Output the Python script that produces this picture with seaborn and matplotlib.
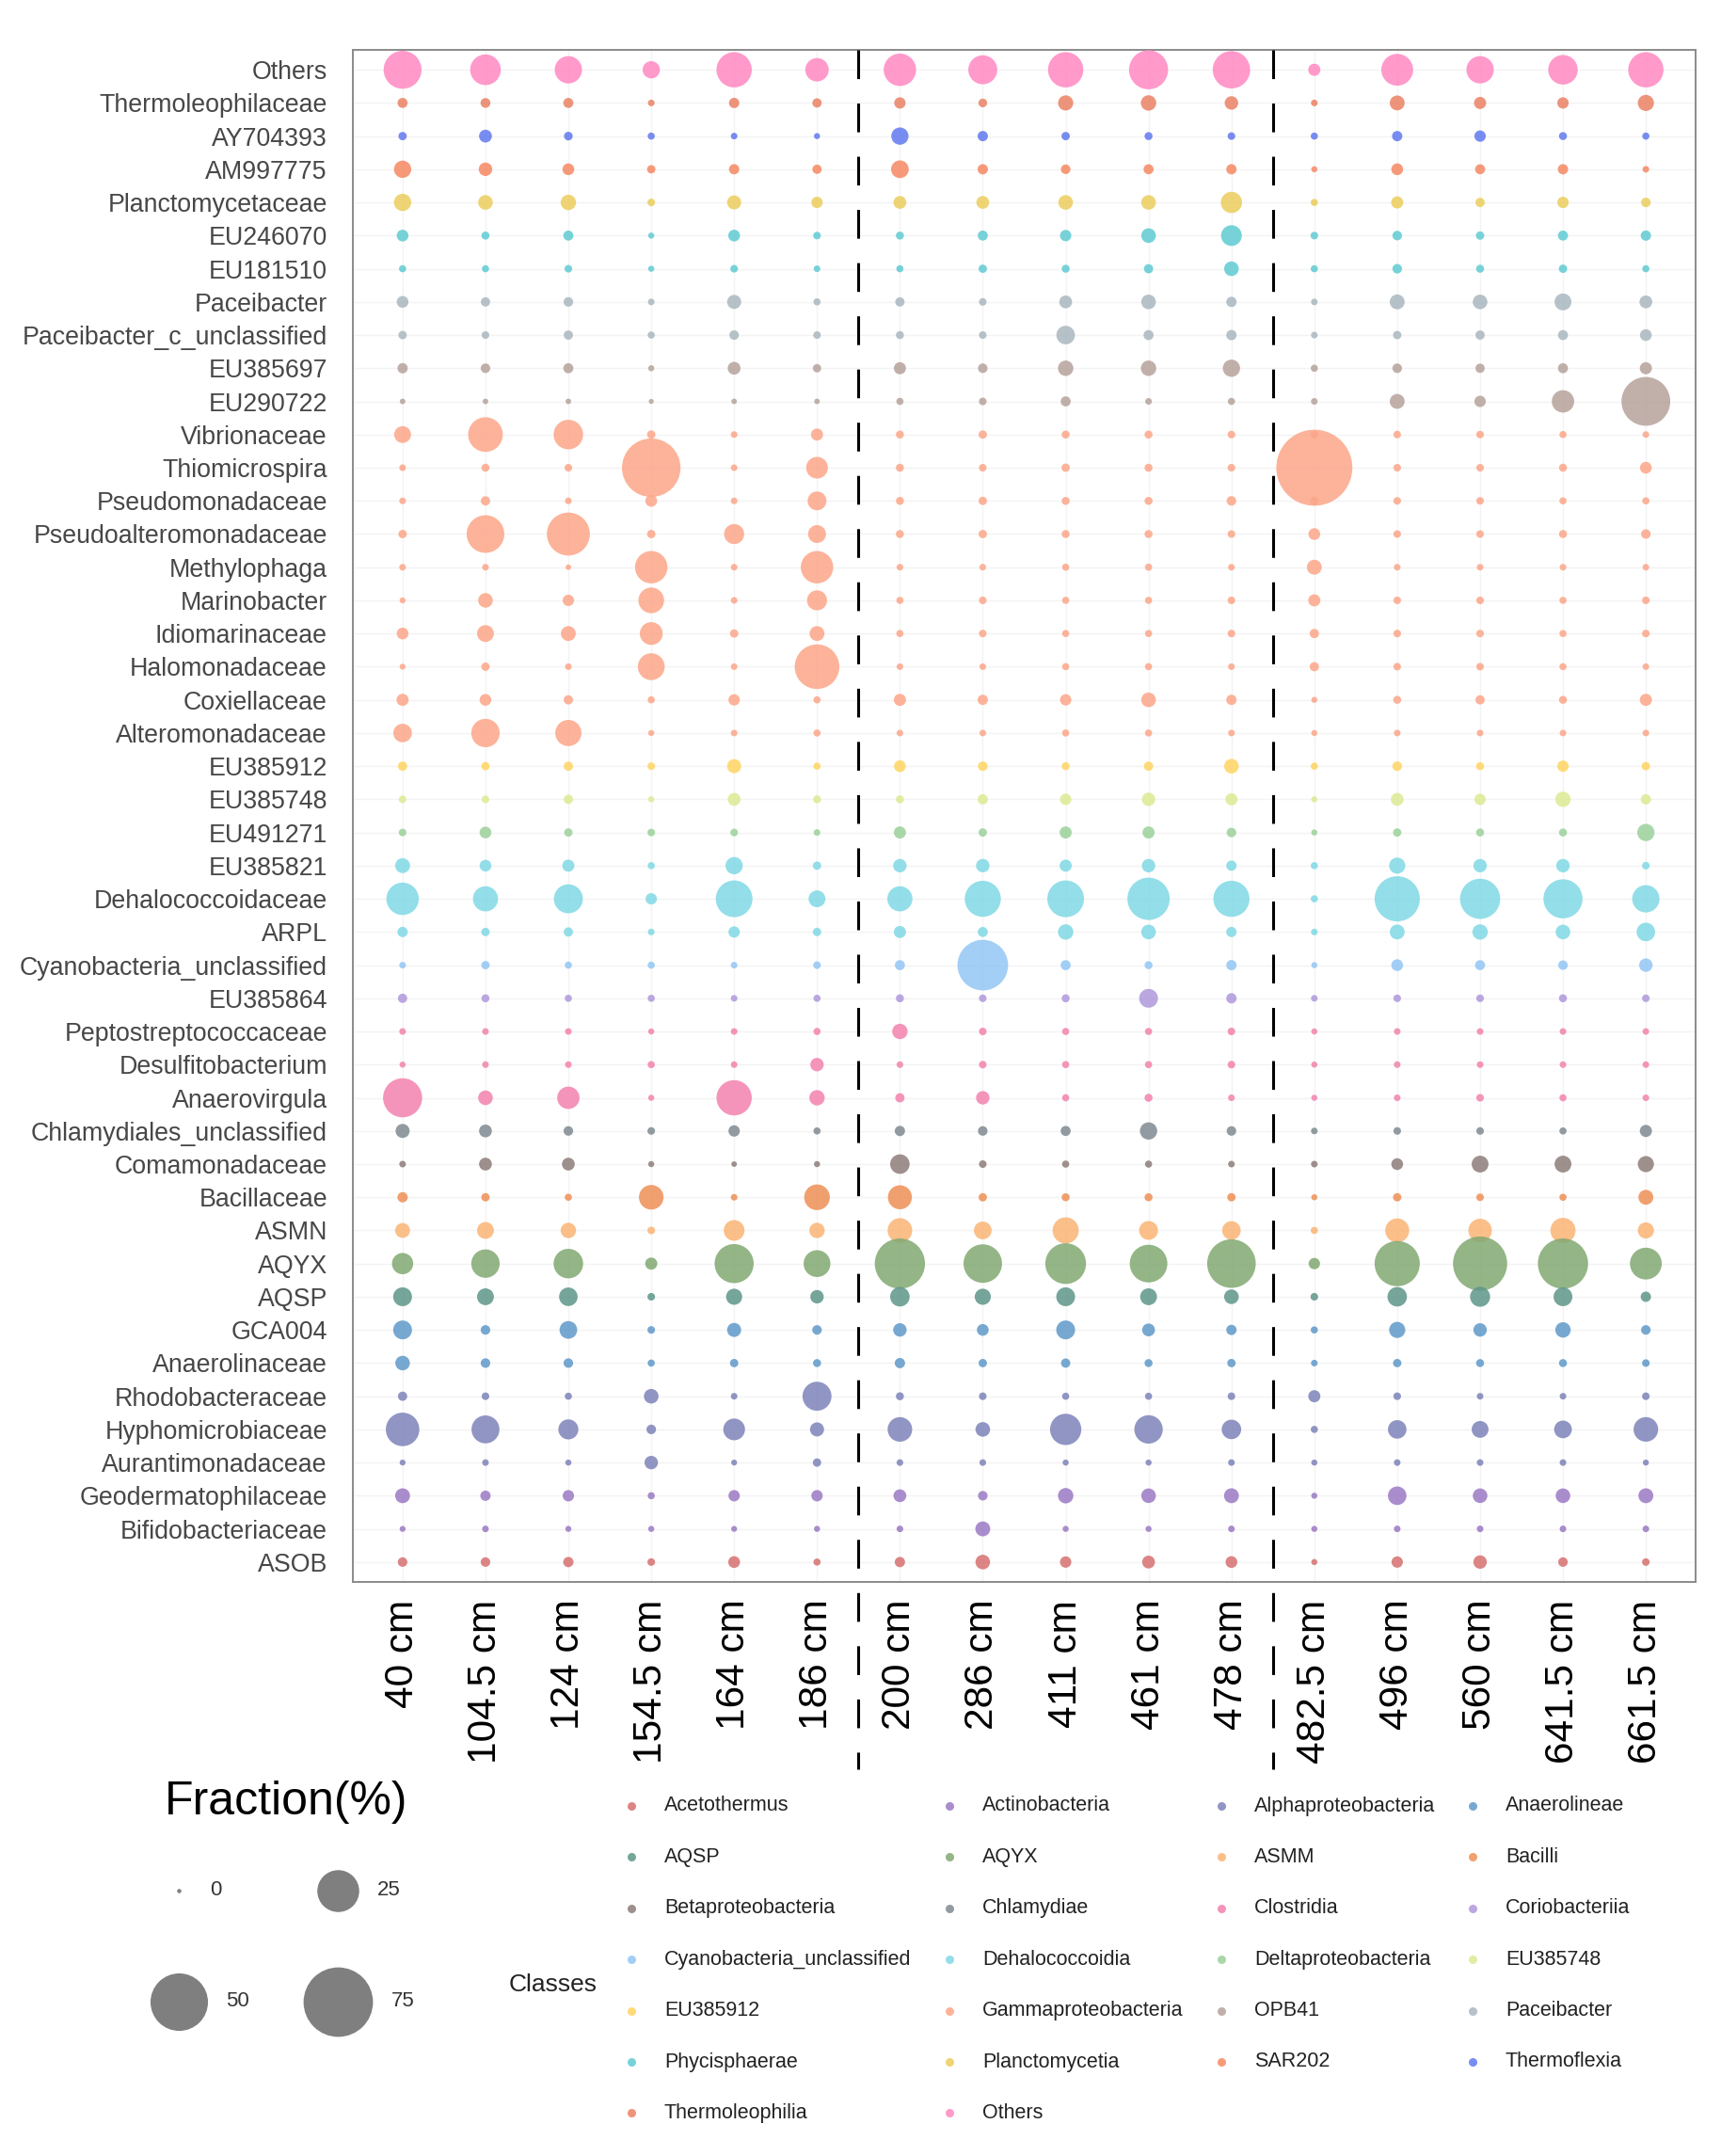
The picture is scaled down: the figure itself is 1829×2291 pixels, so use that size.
import matplotlib
matplotlib.use("Agg")
import matplotlib.pyplot as plt
import matplotlib.transforms as mtransforms
import numpy as np
import pandas as pd
import seaborn as sns

# ---- data -------------------------------------------------------------
depths = ["40 cm", "104.5 cm", "124 cm", "154.5 cm", "164 cm", "186 cm",
          "200 cm", "286 cm", "411 cm", "461 cm", "478 cm",
          "482.5 cm", "496 cm", "560 cm", "641.5 cm", "661.5 cm"]
group_ends = ["186 cm", "478 cm"]   # dashed separators after these samples

taxa = ["Others", "Thermoleophilaceae", "AY704393", "AM997775", "Planctomycetaceae",
        "EU246070", "EU181510", "Paceibacter", "Paceibacter_c_unclassified",
        "EU385697", "EU290722", "Vibrionaceae", "Thiomicrospira", "Pseudomonadaceae",
        "Pseudoalteromonadaceae", "Methylophaga", "Marinobacter", "Idiomarinaceae",
        "Halomonadaceae", "Coxiellaceae", "Alteromonadaceae", "EU385912", "EU385748",
        "EU491271", "EU385821", "Dehalococcoidaceae", "ARPL",
        "Cyanobacteria_unclassified", "EU385864", "Peptostreptococcaceae",
        "Desulfitobacterium", "Anaerovirgula", "Chlamydiales_unclassified",
        "Comamonadaceae", "Bacillaceae", "ASMN", "AQYX", "AQSP", "GCA004",
        "Anaerolinaceae", "Rhodobacteraceae", "Hyphomicrobiaceae",
        "Aurantimonadaceae", "Geodermatophilaceae", "Bifidobacteriaceae", "ASOB"]

taxon_class = ["Others", "Thermoleophilia", "Thermoflexia", "SAR202", "Planctomycetia",
               "Phycisphaerae", "Phycisphaerae", "Paceibacter", "Paceibacter",
               "OPB41", "OPB41", "Gammaproteobacteria", "Gammaproteobacteria",
               "Gammaproteobacteria", "Gammaproteobacteria", "Gammaproteobacteria",
               "Gammaproteobacteria", "Gammaproteobacteria", "Gammaproteobacteria",
               "Gammaproteobacteria", "Gammaproteobacteria", "EU385912", "EU385748",
               "Deltaproteobacteria", "Dehalococcoidia", "Dehalococcoidia",
               "Dehalococcoidia", "Cyanobacteria_unclassified", "Coriobacteriia",
               "Clostridia", "Clostridia", "Clostridia", "Chlamydiae",
               "Betaproteobacteria", "Bacilli", "ASMM", "AQYX", "AQSP", "Anaerolineae",
               "Anaerolineae", "Alphaproteobacteria", "Alphaproteobacteria",
               "Alphaproteobacteria", "Actinobacteria", "Actinobacteria", "Acetothermus"]

# fraction (%) per taxon, one value per depth
others = [20, 12.3, 9.4, 3.0, 17, 6.5, 14, 10.8, 17, 21.4, 19.4, 1.1, 13.4, 9.4, 11.3, 17]
thermoleophilaceae = [0.6, 0.55, 0.6, 0.1, 0.65, 0.45, 0.9, 0.35, 2.1, 2.2, 1.5, 0.1, 2.0, 1.1, 0.9, 2.5]
ay704393 = [0.3, 1.3, 0.35, 0.15, 0.1, 0.06, 3.0, 0.65, 0.3, 0.25, 0.2, 0.15, 0.65, 0.9, 0.25, 0.15]
am997775 = [3.0, 1.5, 1.0, 0.3, 0.65, 0.45, 3.2, 0.65, 0.5, 0.6, 0.65, 0.06, 1.0, 0.6, 0.65, 0.1]
planctomycetaceae = [3.0, 1.9, 2.2, 0.2, 1.7, 0.9, 1.3, 1.3, 1.9, 1.9, 5.1, 0.15, 1.1, 0.45, 0.9, 0.5]
eu246070 = [1.0, 0.25, 0.6, 0.06, 1.0, 0.2, 0.25, 0.6, 0.9, 1.9, 4.8, 0.2, 0.5, 0.3, 0.6, 0.65]
eu181510 = [0.15, 0.15, 0.2, 0.06, 0.2, 0.1, 0.15, 0.3, 0.25, 0.45, 1.9, 0.15, 0.5, 0.25, 0.3, 0.15]
paceibacter = [1.0, 0.45, 0.5, 0.1, 1.7, 0.15, 0.45, 0.2, 1.3, 1.9, 0.65, 0.1, 2.0, 1.9, 2.8, 1.3]
paceibacter_unc = [0.3, 0.2, 0.45, 0.15, 0.5, 0.2, 0.25, 0.2, 3.6, 0.6, 0.65, 0.1, 0.3, 0.45, 0.6, 1.0]
eu385697 = [0.65, 0.5, 0.6, 0.06, 1.3, 0.3, 1.1, 0.5, 2.2, 2.2, 3.0, 0.15, 0.5, 0.45, 0.6, 1.1]
eu290722 = [0.03, 0.03, 0.03, 0.01, 0.03, 0.03, 0.15, 0.2, 0.6, 0.1, 0.15, 0.1, 2.0, 0.9, 5.8, 35]
vibrionaceae = [2.8, 16.3, 11.3, 0.3, 0.1, 1.1, 0.25, 0.3, 0.25, 0.25, 0.2, 0.2, 0.2, 0.2, 0.15, 0.1]
thiomicrospira = [0.1, 0.25, 0.2, 52, 0.1, 5.4, 0.25, 0.2, 0.3, 0.25, 0.2, 91, 0.2, 0.2, 0.25, 1.0]
pseudomonadaceae = [0.1, 0.45, 0.1, 1.0, 0.1, 3.75, 0.25, 0.3, 0.25, 0.25, 0.5, 0.3, 0.2, 0.2, 0.15, 0.15]
pseudoalteromonadaceae = [0.3, 19.7, 26.5, 0.3, 4.4, 3.3, 0.25, 0.3, 0.25, 0.25, 0.2, 1.0, 0.2, 0.2, 0.25, 0.5]
methylophaga = [0.1, 0.1, 0.03, 14, 0.1, 14, 0.1, 0.1, 0.15, 0.15, 0.1, 2.0, 0.1, 0.1, 0.1, 0.1]
marinobacter = [0.05, 1.9, 0.9, 8.1, 0.1, 4.4, 0.15, 0.2, 0.15, 0.15, 0.2, 1.1, 0.2, 0.2, 0.15, 0.2]
idiomarinaceae = [1.0, 2.8, 2.0, 6.1, 0.3, 2.0, 0.15, 0.2, 0.15, 0.15, 0.2, 0.45, 0.2, 0.2, 0.15, 0.2]
halomonadaceae = [0.05, 0.3, 0.1, 9.0, 0.1, 28.8, 0.1, 0.1, 0.15, 0.15, 0.1, 0.45, 0.2, 0.2, 0.15, 0.1]
coxiellaceae = [1.1, 1.0, 0.45, 0.15, 0.9, 0.15, 1.1, 0.65, 0.9, 1.9, 0.65, 0.06, 0.25, 0.45, 0.25, 1.1]
alteromonadaceae = [3.6, 10.3, 8.5, 0.06, 0.1, 0.15, 0.1, 0.1, 0.15, 0.15, 0.1, 0.06, 0.1, 0.1, 0.1, 0.1]
eu385912 = [0.45, 0.3, 0.45, 0.2, 1.7, 0.15, 1.0, 0.5, 0.25, 0.45, 1.9, 0.15, 0.5, 0.25, 0.9, 0.3]
eu385748 = [0.2, 0.2, 0.45, 0.06, 1.3, 0.25, 0.25, 0.65, 0.9, 1.5, 1.1, 0.06, 1.3, 0.9, 2.2, 0.65]
eu491271 = [0.2, 1.0, 0.3, 0.2, 0.2, 0.1, 1.1, 0.3, 1.1, 1.1, 0.5, 0.06, 0.3, 0.25, 0.25, 3.0]
eu385821 = [2.0, 1.0, 1.1, 0.15, 3.0, 0.3, 1.5, 1.5, 1.1, 1.5, 0.65, 0.15, 2.5, 1.5, 1.5, 0.2]
dehalococcoidaceae = [14, 7.7, 10.8, 0.9, 18.6, 2.8, 7.7, 17.9, 18.6, 25.6, 17.9, 0.15, 29.6, 22.8, 21.4, 9.4]
arpl = [0.65, 0.3, 0.45, 0.1, 0.9, 0.3, 1.1, 0.6, 2.2, 1.9, 0.65, 0.1, 2.0, 2.2, 1.9, 3.6]
cyano_unc = [0.1, 0.3, 0.15, 0.15, 0.1, 0.2, 0.6, 38, 0.6, 0.25, 0.65, 0.06, 1.0, 0.6, 0.5, 1.5]
eu385864 = [0.45, 0.25, 0.15, 0.15, 0.1, 0.15, 0.25, 0.2, 0.25, 3.75, 0.65, 0.1, 0.2, 0.2, 0.25, 0.2]
peptostreptococcaceae = [0.1, 0.1, 0.1, 0.06, 0.1, 0.15, 2.2, 0.2, 0.15, 0.15, 0.2, 0.06, 0.1, 0.1, 0.1, 0.1]
desulfitobacterium = [0.06, 0.1, 0.1, 0.15, 0.1, 1.5, 0.1, 0.2, 0.15, 0.15, 0.2, 0.06, 0.1, 0.1, 0.1, 0.1]
anaerovirgula = [21.4, 1.9, 5.8, 0.06, 17, 2.2, 0.45, 1.5, 0.15, 0.25, 0.1, 0.06, 0.1, 0.2, 0.15, 0.1]
chlamydiales_unc = [1.7, 1.3, 0.5, 0.2, 0.9, 0.15, 0.65, 0.5, 0.6, 3.0, 0.5, 0.1, 0.2, 0.2, 0.15, 1.1]
comamonadaceae = [0.1, 1.3, 1.3, 0.06, 0.03, 0.06, 4.1, 0.2, 0.15, 0.15, 0.1, 0.1, 1.0, 2.8, 2.8, 2.5]
bacillaceae = [0.65, 0.3, 0.15, 7.3, 0.1, 8.1, 6.9, 0.3, 0.25, 0.25, 0.3, 0.06, 0.3, 0.2, 0.15, 2.0]
asmn = [2.0, 2.8, 2.2, 0.2, 4.8, 2.2, 7.3, 3.2, 8.5, 3.75, 3.6, 0.15, 6.9, 6.5, 7.7, 2.5]
aqyx = [5.1, 10.3, 11.3, 1.1, 21.4, 9.0, 37.3, 20.7, 23.5, 19.7, 34.7, 0.9, 29.6, 44, 37.3, 13.4]
aqsp = [3.75, 2.8, 3.6, 0.2, 2.5, 1.5, 4.1, 2.5, 3.75, 2.8, 1.9, 0.2, 4.1, 4.4, 3.75, 0.65]
gca004 = [3.75, 0.5, 3.2, 0.2, 1.7, 0.5, 1.5, 1.0, 3.75, 1.3, 0.65, 0.15, 2.5, 1.5, 2.2, 0.5]
anaerolinaceae = [1.9, 0.5, 0.5, 0.15, 0.3, 0.25, 0.65, 0.3, 0.45, 0.25, 0.3, 0.1, 0.3, 0.25, 0.25, 0.2]
rhodobacteraceae = [0.45, 0.2, 0.15, 1.9, 0.1, 10.8, 0.25, 0.2, 0.15, 0.15, 0.2, 1.1, 0.2, 0.1, 0.1, 0.2]
hyphomicrobiaceae = [15.1, 9.9, 4.4, 0.5, 5.4, 1.7, 7.3, 1.9, 12.9, 10.3, 4.1, 0.15, 3.6, 2.8, 3.2, 7.3]
aurantimonadaceae = [0.05, 0.1, 0.06, 1.5, 0.05, 0.3, 0.1, 0.1, 0.06, 0.06, 0.1, 0.06, 0.1, 0.1, 0.1, 0.06]
geodermatophilaceae = [2.0, 0.65, 0.9, 0.15, 0.9, 0.9, 1.3, 0.5, 2.2, 1.9, 2.0, 0.06, 3.6, 1.9, 1.9, 2.0]
bifidobacteriaceae = [0.05, 0.1, 0.06, 0.06, 0.05, 0.06, 0.1, 2.0, 0.06, 0.06, 0.1, 0.06, 0.1, 0.1, 0.1, 0.1]
asob = [0.5, 0.5, 0.65, 0.2, 1.0, 0.15, 0.65, 1.9, 0.9, 1.3, 1.0, 0.06, 0.9, 1.5, 0.5, 0.2]

rows = [others, thermoleophilaceae, ay704393, am997775, planctomycetaceae,
        eu246070, eu181510, paceibacter, paceibacter_unc, eu385697, eu290722,
        vibrionaceae, thiomicrospira, pseudomonadaceae, pseudoalteromonadaceae,
        methylophaga, marinobacter, idiomarinaceae, halomonadaceae, coxiellaceae,
        alteromonadaceae, eu385912, eu385748, eu491271, eu385821,
        dehalococcoidaceae, arpl, cyano_unc, eu385864, peptostreptococcaceae,
        desulfitobacterium, anaerovirgula, chlamydiales_unc, comamonadaceae,
        bacillaceae, asmn, aqyx, aqsp, gca004, anaerolinaceae, rhodobacteraceae,
        hyphomicrobiaceae, aurantimonadaceae, geodermatophilaceae,
        bifidobacteriaceae, asob]

# legend order of classes and their colours
classes = ["Acetothermus", "Actinobacteria", "Alphaproteobacteria", "Anaerolineae",
           "AQSP", "AQYX", "ASMM", "Bacilli",
           "Betaproteobacteria", "Chlamydiae", "Clostridia", "Coriobacteriia",
           "Cyanobacteria_unclassified", "Dehalococcoidia", "Deltaproteobacteria", "EU385748",
           "EU385912", "Gammaproteobacteria", "OPB41", "Paceibacter",
           "Phycisphaerae", "Planctomycetia", "SAR202", "Thermoflexia",
           "Thermoleophilia", "Others"]
class_colors = ["#D6706F", "#9B79C4", "#7D83B9", "#5F99C9",
                "#5E9589", "#81A871", "#FBB474", "#EE8F55",
                "#8D7D79", "#7F8A91", "#F382AE", "#AF98DC",
                "#93C6F5", "#80D9E5", "#9BD19A", "#DCEA93",
                "#FFD462", "#FCA689", "#B6A29B", "#A9B7BF",
                "#5FCBD2", "#EBCD5C", "#F68862", "#6179EF",
                "#EA8164", "#FF88C2"]

size_breaks = [0, 25, 50, 75]

# ---- layout -----------------------------------------------------------
DPI = 100
W, H = 1829, 2291


def bubble_area(v):
    # diameter in px grows with sqrt(fraction), converted to points^2
    d_px = 4.5 + 8.0 * np.sqrt(np.asarray(v, dtype=float))
    return (d_px * 72.0 / DPI) ** 2


records = []
for name, cls, row in zip(taxa, taxon_class, rows):
    for depth, v in zip(depths, row):
        records.append((name, depth, cls, v))
df = pd.DataFrame(records, columns=["taxon", "depth", "cls", "fraction"])
df["area"] = bubble_area(df["fraction"])

sns.set_style("white")
plt.rcParams["font.family"] = ["Liberation Sans", "DejaVu Sans"]

fig = plt.figure(figsize=(W / DPI, H / DPI), dpi=DPI)
ax = fig.add_axes([375 / W, 1 - 1681 / H, 1427 / W, 1628 / H])

palette = dict(zip(classes, class_colors))
amin, amax = df["area"].min(), df["area"].max()
sns.scatterplot(data=df, x="depth", y="taxon", hue="cls", palette=palette,
                size="area", sizes=(amin, amax), size_norm=(amin, amax),
                alpha=0.85, linewidth=0, legend=False, ax=ax, zorder=3)

ax.set_xlim(-0.6, len(depths) - 0.4)
ax.set_ylim(len(taxa) - 0.4, -0.6)
ax.set_xticks(range(len(depths)))
ax.set_xticklabels(depths, rotation=90)
ax.set_yticks(range(len(taxa)))
ax.set_yticklabels(taxa)
ax.set_xlabel("")
ax.set_ylabel("")

ax.set_axisbelow(True)
ax.grid(True, color="#F3F3F3", lw=1.0)
for sp in ax.spines.values():
    sp.set_color("#8A8A8A")
    sp.set_linewidth(1.4)

ax.tick_params(axis="both", length=5.5, width=1.3, color="#333333")
ax.tick_params(axis="y", labelsize=19.3, labelcolor="#474747", pad=14)
ax.tick_params(axis="x", labelsize=30.5, labelcolor="black", pad=8)

# dashed group separators, running past the axis into the tick labels
trans = mtransforms.blended_transform_factory(ax.transData, ax.transAxes)
for g in group_ends:
    xpos = depths.index(g) + 0.5
    ax.plot([xpos, xpos], [1.0, -0.122], transform=trans, clip_on=False,
            color="black", lw=2.2, linestyle=(0, (10, 8.5)), zorder=5)

# ---- legends (drawn in figure pixel space) ------------------------------
lax = fig.add_axes([0, 0, 1, 1])
lax.set_xlim(0, W)
lax.set_ylim(H, 0)
lax.axis("off")

lax.text(304, 1915, "Fraction(%)", fontsize=36, ha="center", va="center", color="black")
size_pos = [(190, 2009), (359, 2009), (190, 2127), (359, 2127)]
for val, (sx, sy) in zip(size_breaks, size_pos):
    lax.scatter([sx], [sy], s=bubble_area(val), color="#7F7F7F", linewidths=0)
    r_px = (4.5 + 8.0 * np.sqrt(val)) / 2
    lax.text(sx + max(r_px, 13) + 20, sy, str(val), fontsize=16,
             ha="left", va="center", color="#333333")

lax.text(588, 2109, "Classes", fontsize=19, ha="center", va="center", color="#222222")
dot_x = [671, 1009, 1298, 1565]
row_y0, row_dy = 1919, 54.4
for i, (cls, col) in enumerate(zip(classes, class_colors)):
    r, c = divmod(i, 4)
    yy = row_y0 + r * row_dy
    lax.scatter([dot_x[c]], [yy], s=(9 * 0.72) ** 2, color=col, alpha=0.85, linewidths=0)
    lax.text(dot_x[c] + 35, yy, cls, fontsize=15.5, ha="left", va="center", color="#222222")

fig.savefig("out.png", dpi=DPI)
